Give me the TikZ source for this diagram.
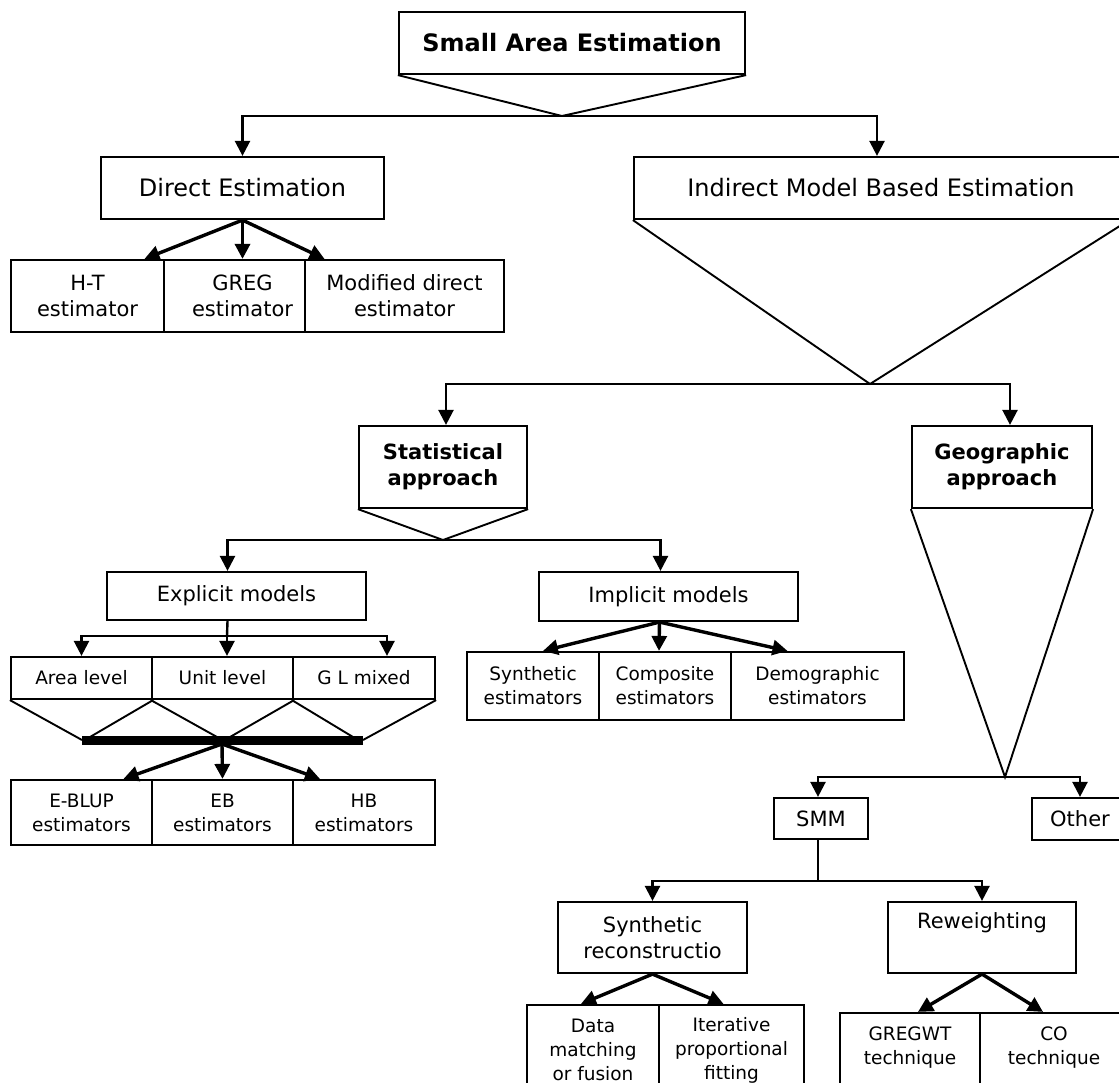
\documentclass[tikz,border=0pt]{standalone}
\usepackage{fontspec}
\setmainfont{DejaVu Sans}
\usetikzlibrary{arrows.meta}

\tikzset{
  box/.style={draw, fill=white, line width=2.2pt, inner sep=0pt, align=center},
  bigtxt/.style={font=\fontsize{24}{29}\selectfont},
  bigbold/.style={font=\fontsize{24}{29}\selectfont\bfseries},
  midtxt/.style={font=\fontsize{21}{26}\selectfont},
  midbold/.style={font=\fontsize{21}{26}\selectfont\bfseries},
  smltxt/.style={font=\fontsize{18.5}{24}\selectfont},
  funnel/.style={line width=1.9pt, line join=miter},
  conn/.style={line width=2.4pt},
  arr/.style={conn, -{Triangle[length=15pt,width=15pt]}},
  darr/.style={line width=3.4pt, -{Triangle[length=15pt,width=15pt]}},
}

\begin{document}
\begin{tikzpicture}[x=1pt, y=-1pt]
		%%%%% START %%%%%
		\useasboundingbox (0,0) rectangle (1119,1083);
		\clip (0,0) rectangle (1119,1083);
		
		\node[box, bigbold, minimum width=346pt, minimum height=62pt] (sae) at (572,43) {Small Area Estimation};
		\coordinate (saeV) at (562,116);
		\draw[funnel] (sae.south west) -- (saeV) -- (sae.south east);
		
		\node[box, bigtxt, minimum width=283pt, minimum height=62pt] (dir) at (242.5,188) {Direct Estimation};
		\node[box, bigtxt, minimum width=494pt, minimum height=62pt] (ind) at (881,188) {Indirect Model Based Estimation};
		\draw[arr] (saeV) -| (dir.north);
		\draw[arr] (saeV) -| ([xshift=-4pt]ind.north);
		
		%%%%% direct estimators
		\node[box, midtxt, minimum width=153pt, minimum height=72pt] (ht) at (87.5,296) {H-T\\estimator};
		\node[box, midtxt, minimum width=157pt, minimum height=72pt] (greg) at (242.5,296) {GREG\\estimator};
		\node[box, midtxt, minimum width=199pt, minimum height=72pt] (mod) at (404.5,296) {Modified direct\\estimator};
		\draw[darr] (dir.south) -- ([xshift=57pt]ht.north);
		\draw[darr] (dir.south) -- (greg.north);
		\draw[darr] (dir.south) -- ([xshift=-80pt]mod.north);
		
		%%%%% indirect
		\coordinate (indV) at (870,384);
		\draw[funnel] (ind.south west) -- (indV) -- (ind.south east);
		\node[box, midbold, minimum width=168pt, minimum height=82pt] (stat) at (443,467) {Statistical\\approach};
		\node[box, midbold, minimum width=180pt, minimum height=82pt] (geo) at (1002,467) {Geographic\\approach};
		\draw[arr] (indV) -| ([xshift=3pt]stat.north);
		\draw[arr] (indV) -| ([xshift=8pt]geo.north);
		
		%%%%% statistical
		\coordinate (statV) at (443,540);
		\draw[funnel] (stat.south west) -- (statV) -- (stat.south east);
		\node[box, midtxt, minimum width=259pt, minimum height=48pt] (expl) at (236.5,596) {Explicit models};
		\node[box, midtxt, minimum width=259pt, minimum height=49pt] (impl) at (668.5,596.5) {Implicit models};
		\draw[arr] (statV) -| ([xshift=-9pt]expl.north);
		\draw[arr] (statV) -| ([xshift=-8pt]impl.north);
		
		\node[box, smltxt, minimum width=141pt, minimum height=42pt] (area) at (81.5,678) {Area level};
		\node[box, smltxt, minimum width=141pt, minimum height=42pt] (unit) at (222.5,678) {Unit level};
		\node[box, smltxt, minimum width=142pt, minimum height=42pt] (glm) at (364,678) {G L mixed};
		\coordinate (explJ) at (227,636);
		\draw[conn] ([xshift=-9pt]expl.south) -- (explJ);
		\draw[arr] (explJ) -| (area.north);
		\draw[arr] (explJ) -- ([xshift=4.5pt]unit.north);
		\draw[arr] (explJ) -| ([xshift=23pt]glm.north);
		
		\coordinate (barL) at (82,740);
		\coordinate (barR) at (363,740);
		\coordinate (b2) at (90,737);
		\coordinate (b3) at (217,737);
		\coordinate (b4) at (230,737);
		\coordinate (b5) at (353,737);
		\draw[funnel] (area.south west) -- (barL);
		\draw[funnel] (area.south east) -- (b2);
		\draw[funnel] (unit.south west) -- (b3);
		\draw[funnel] (unit.south east) -- (b4);
		\draw[funnel] (glm.south west) -- (b5);
		\draw[funnel] (glm.south east) -- (barR);
		\draw[line width=9pt] (barL) -- (barR);
		
		\node[box, smltxt, minimum width=141pt, minimum height=65pt] (eblup) at (81.5,812.5) {E-BLUP\\estimators};
		\node[box, smltxt, minimum width=141pt, minimum height=65pt] (eb) at (222.5,812.5) {EB\\estimators};
		\node[box, smltxt, minimum width=142pt, minimum height=65pt] (hb) at (364,812.5) {HB\\estimators};
		\coordinate (barC) at (222,744);
		\draw[darr] (barC) -- ([xshift=42pt]eblup.north);
		\draw[darr] (barC) -- (eb.north);
		\draw[darr] (barC) -- ([xshift=-44pt]hb.north);
		
		%%%%% implicit
		\node[box, smltxt, minimum width=132pt, minimum height=68pt] (synest) at (533,686) {Synthetic\\estimators};
		\node[box, smltxt, minimum width=132pt, minimum height=68pt] (compest) at (665,686) {Composite\\estimators};
		\node[box, smltxt, minimum width=173pt, minimum height=68pt] (demest) at (817.5,686) {Demographic\\estimators};
		\draw[darr] ([xshift=-9pt]impl.south) -- ([xshift=10pt]synest.north);
		\draw[darr] ([xshift=-9pt]impl.south) -- ([xshift=-6pt]compest.north);
		\draw[darr] ([xshift=-9pt]impl.south) -- ([xshift=-30pt]demest.north);
		
		%%%%% geographic
		\coordinate (geoV) at (1005,777);
		\draw[funnel] (geo.south west) -- (geoV) -- (geo.south east);
		\node[box, midtxt, minimum width=94pt, minimum height=41pt] (smm) at (821,818.5) {SMM};
		\node[box, midtxt, minimum width=96pt, minimum height=42pt] (other) at (1080,819) {Other};
		\draw[arr] (geoV) -| ([xshift=-3pt]smm.north);
		\draw[arr] (geoV) -| (other.north);
		
		\node[box, midtxt, minimum width=189pt, minimum height=71pt] (synrec) at (652.5,937.5) {Synthetic\\reconstructio};
		\node[box, midtxt, minimum width=188pt, minimum height=71pt] (rew) at (982,937.5) {Reweighting\\\strut};
		\draw[conn] ([xshift=-3pt]smm.south) -- ++(0,41) coordinate (smmJ);
		\draw[arr] (smmJ) -| (synrec.north);
		\draw[arr] (smmJ) -| (rew.north);
		
		\node[box, smltxt, minimum width=132pt, minimum height=90pt] (data) at (593,1050) {Data\\matching\\or fusion};
		\node[box, smltxt, minimum width=145pt, minimum height=90pt] (iter) at (731.5,1050) {Iterative\\proportional\\fitting};
		\node[box, smltxt, minimum width=140pt, minimum height=96pt] (gregwt) at (910,1061) {GREGWT\\technique\\\strut};
		\node[box, smltxt, minimum width=148pt, minimum height=96pt] (co) at (1054,1061) {CO\\technique\\\strut};
		\draw[darr] (synrec.south) -- ([xshift=-12pt]data.north);
		\draw[darr] (synrec.south) -- ([xshift=-8pt]iter.north);
		\draw[darr] (rew.south) -- ([xshift=8pt]gregwt.north);
		\draw[darr] (rew.south) -- ([xshift=-11pt]co.north);
		
		%%%%% END %%%%%
\end{tikzpicture}
\end{document}
